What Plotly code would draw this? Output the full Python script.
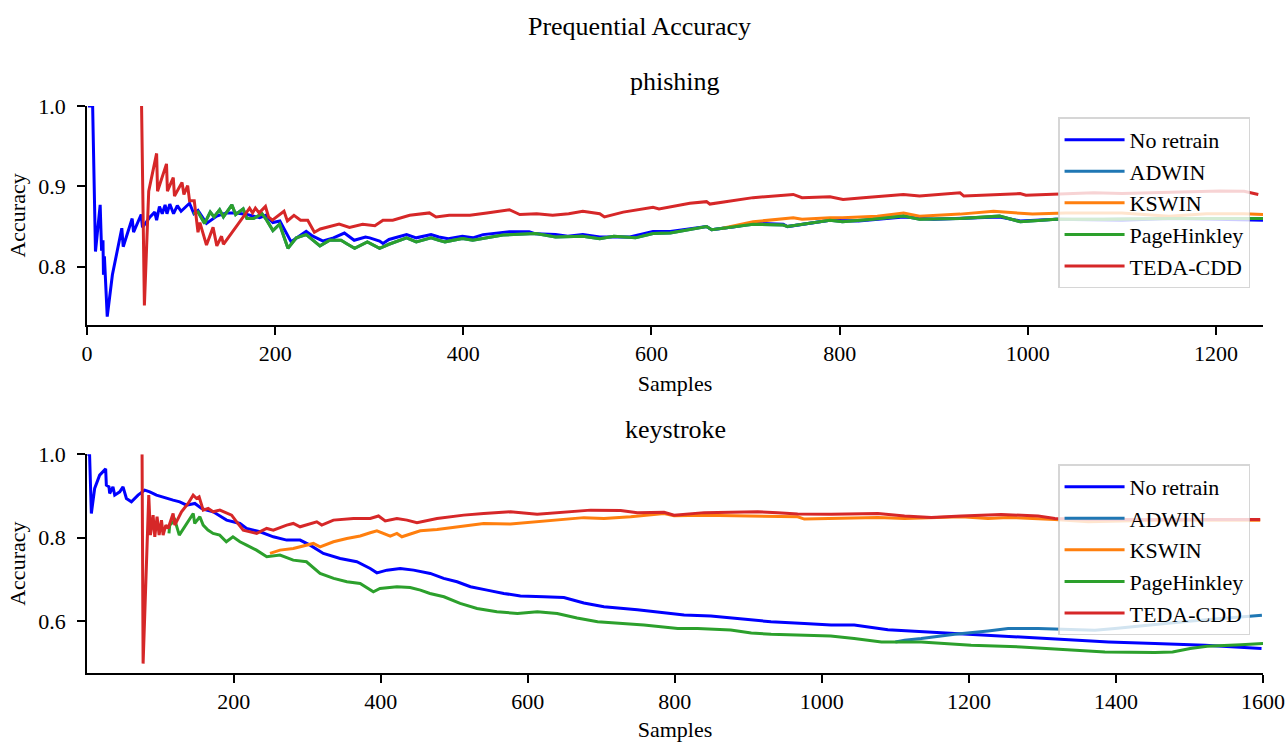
import plotly.graph_objects as go

# ---------------- data ----------------
SERIES = ["No retrain", "ADWIN", "KSWIN", "PageHinkley", "TEDA-CDD"]
COLORS = ["#0000ff", "#1f77b4", "#ff7f0e", "#2ca02c", "#d62728"]

# phishing
phishing_noretrain_x = [1, 6, 9, 14, 15.5, 17, 17.5, 18.5, 21.5, 27, 37, 38.5, 48, 49.5, 57.6, 59, 67, 72, 74, 77, 80,
                        83, 85, 88, 92, 96, 100, 106, 109, 113.6, 118, 127, 138, 148, 158.7, 170, 183.5, 190, 197.6,
                        205, 212, 217, 233, 240, 251, 262, 273.6, 284, 296, 300.5, 311, 314.6, 321, 339.7, 350, 365.7,
                        374, 384, 399, 410, 421, 449, 470, 477, 498, 511, 527, 545, 577, 601.6, 620, 658.5, 664, 690,
                        708, 740, 744.6, 789.7, 820, 868, 900, 930, 970, 992, 1030, 1100, 1150, 1200, 1250]
phishing_noretrain_y = [1.0, 1.0, 0.819, 0.877, 0.82, 0.833, 0.79, 0.813, 0.738, 0.79, 0.848, 0.825, 0.86, 0.843,
                        0.865, 0.849, 0.862, 0.868, 0.858, 0.875, 0.866, 0.877, 0.866, 0.878, 0.866, 0.876, 0.869,
                        0.876, 0.879, 0.866, 0.870, 0.854, 0.863, 0.867, 0.867, 0.865, 0.861, 0.864, 0.855, 0.857,
                        0.841, 0.831, 0.844, 0.838, 0.832, 0.836, 0.842, 0.833, 0.837, 0.836, 0.832, 0.829, 0.834,
                        0.840, 0.836, 0.840, 0.837, 0.835, 0.838, 0.836, 0.840, 0.8435, 0.8435, 0.841, 0.840, 0.838,
                        0.840, 0.837, 0.837, 0.844, 0.844, 0.850, 0.846, 0.850, 0.854, 0.853, 0.850, 0.858, 0.857,
                        0.862, 0.859, 0.860, 0.862, 0.857, 0.859, 0.858, 0.860, 0.859, 0.858]

phishing_pagehinkley_x = [113, 118, 125, 131, 135, 141, 145, 154, 158, 166, 170, 177, 186, 191, 197.6, 204.7, 213.6,
                          222.5, 233, 240, 247.6, 258, 270, 277, 284.5, 298, 311, 321, 339.7, 350, 365.7, 374, 380.5,
                          399, 410, 442, 477, 498, 527, 545, 560, 583, 601.6, 620, 658.5, 664, 708, 740, 744.6, 789.7,
                          803, 835, 868, 885, 928, 970, 992, 1030, 1080, 1150, 1200, 1250]
phishing_pagehinkley_y = [0.866, 0.868, 0.854, 0.868, 0.862, 0.871, 0.862, 0.877, 0.865, 0.872, 0.860, 0.860, 0.866,
                          0.858, 0.845, 0.853, 0.823, 0.836, 0.840, 0.833, 0.826, 0.833, 0.833, 0.828, 0.823, 0.831,
                          0.823, 0.828, 0.836, 0.831, 0.836, 0.833, 0.831, 0.835, 0.833, 0.8394, 0.8414, 0.837, 0.838,
                          0.835, 0.838, 0.836, 0.8414, 0.842, 0.850, 0.846, 0.853, 0.852, 0.850, 0.858, 0.856, 0.859,
                          0.863, 0.859, 0.860, 0.863, 0.856, 0.859, 0.859, 0.860, 0.860, 0.860]

# ADWIN follows the PageHinkley curve on phishing (it stays hidden under it)
phishing_adwin_x = phishing_pagehinkley_x
phishing_adwin_y = phishing_pagehinkley_y

phishing_kswin_x = [675.7, 708, 750.7, 760, 789.7, 803, 840, 868, 885, 928, 963.6, 1005, 1040, 1100, 1150, 1190,
                    1230, 1250]
phishing_kswin_y = [0.848, 0.856, 0.861, 0.859, 0.861, 0.861, 0.863, 0.867, 0.863, 0.8655, 0.869, 0.8655, 0.867,
                    0.867, 0.863, 0.866, 0.866, 0.865]

phishing_teda_x = [58, 61, 65.6, 74, 75, 84.5, 85.5, 91.7, 93, 101, 103, 107, 109, 114, 118, 120, 127, 134, 138, 143,
                   145, 172.8, 176, 179, 183, 189.7, 193, 197, 209.4, 213, 220, 227, 234.6, 241.7, 248, 268, 279, 293,
                   306, 314.6, 325, 343, 364, 371, 385, 407, 425, 449, 460, 478, 495, 512, 527, 545, 550, 570, 601.6,
                   608, 640.8, 658.5, 662, 683, 708, 750.7, 760, 789.7, 803.6, 825, 867.7, 885, 928, 932, 960, 991.8,
                   998, 1030, 1070, 1100, 1133.6, 1170, 1204.5, 1230, 1245]
phishing_teda_y = [1.0, 0.752, 0.894, 0.941, 0.894, 0.928, 0.894, 0.911, 0.888, 0.905, 0.89, 0.901, 0.882, 0.882,
                   0.843, 0.855, 0.827, 0.849, 0.826, 0.838, 0.828, 0.873, 0.867, 0.873, 0.867, 0.875, 0.862, 0.858,
                   0.869, 0.857, 0.864, 0.858, 0.858, 0.843, 0.847, 0.853, 0.849, 0.853, 0.851, 0.858, 0.858, 0.864,
                   0.867, 0.862, 0.864, 0.864, 0.867, 0.871, 0.865, 0.866, 0.864, 0.866, 0.869, 0.866, 0.862, 0.868,
                   0.874, 0.872, 0.879, 0.881, 0.878, 0.882, 0.886, 0.890, 0.886, 0.887, 0.8837, 0.886, 0.890, 0.888,
                   0.892, 0.888, 0.889, 0.891, 0.889, 0.890, 0.892, 0.891, 0.892, 0.893, 0.8944, 0.894, 0.890]

# keystroke
keystroke_noretrain_x = [1, 4, 6.4, 10.9, 17.7, 25.9, 26.8, 30.4, 31.3, 35.8, 38.2, 45, 49.5, 54.1, 60.9, 69.9, 79,
                         85.9, 95, 101.8, 108.6, 117.6, 126.7, 135.9, 147.2, 156.3, 163.1, 172.1, 190.4, 208.5, 217.6,
                         235.8, 253.9, 272.1, 290.3, 303.9, 322, 344.8, 367.5, 385.7, 394.8, 408.4, 426.5, 444.7,
                         467.4, 485.6, 503.8, 522, 544.7, 567.4, 590, 608.2, 621.8, 649.1, 676.3, 703.6, 749.1, 794.5,
                         812.6, 849, 885.4, 930.8, 976.2, 1012.5, 1044, 1089.8, 1180.6, 1271.3, 1390, 1453, 1521, 1598]
keystroke_noretrain_y = [1.0, 1.0, 0.858, 0.918, 0.950, 0.965, 0.926, 0.922, 0.906, 0.922, 0.902, 0.910, 0.922, 0.894,
                         0.886, 0.902, 0.914, 0.910, 0.902, 0.898, 0.894, 0.890, 0.886, 0.878, 0.882, 0.870, 0.866,
                         0.862, 0.842, 0.834, 0.822, 0.814, 0.802, 0.794, 0.794, 0.782, 0.762, 0.750, 0.742, 0.726,
                         0.7154, 0.7219, 0.726, 0.722, 0.714, 0.702, 0.694, 0.682, 0.674, 0.666, 0.660, 0.658, 0.658,
                         0.656, 0.643, 0.634, 0.627, 0.618, 0.614, 0.612, 0.606, 0.598, 0.594, 0.590, 0.590, 0.579,
                         0.570, 0.5616, 0.5496, 0.5456, 0.5416, 0.5337]

keystroke_adwin_x = [1100, 1112.5, 1135.2, 1180.6, 1226, 1253.3, 1294.2, 1371.4, 1398.6, 1453.2, 1498.6, 1544, 1598.5]
keystroke_adwin_y = [0.5496, 0.5536, 0.5576, 0.568, 0.576, 0.5817, 0.5817, 0.5776, 0.5817, 0.592, 0.5993, 0.6057,
                     0.6137]

keystroke_kswin_x = [249.4, 263, 281.1, 290.3, 308.4, 317.5, 335.7, 353.9, 372, 385.7, 394.8, 413, 422, 428.8, 453.8,
                     476.6, 512.8, 540, 576.5, 612.8, 676.3, 703.6, 740, 785.4, 799, 839.9, 912.6, 967.1, 976.2,
                     1012.5, 1076.2, 1112.5, 1189.7, 1226, 1253.3, 1316.9, 1362.4, 1453.2, 1596.2]
keystroke_kswin_y = [0.762, 0.770, 0.774, 0.778, 0.786, 0.778, 0.790, 0.798, 0.804, 0.8116, 0.8164, 0.8036, 0.810,
                     0.802, 0.8164, 0.8197, 0.8277, 0.834, 0.8325, 0.838, 0.848, 0.846, 0.850, 0.858, 0.8524, 0.854,
                     0.8524, 0.850, 0.8445, 0.846, 0.8485, 0.846, 0.850, 0.846, 0.8485, 0.8437, 0.838, 0.842, 0.842]

keystroke_pagehinkley_x = [112, 113, 120, 126, 145, 147, 154, 158.5, 165, 172, 181, 190, 199, 208.5, 217.6, 231, 245,
                           263, 281, 299, 317.5, 336, 354, 372, 390, 399, 422, 440, 454, 467, 486, 508, 531, 558, 586,
                           613, 640, 667, 695, 731, 758, 804, 831, 876, 904, 931, 976, 1012, 1044, 1081, 1135, 1203,
                           1271, 1385, 1453, 1477, 1501, 1524, 1570, 1600]
keystroke_pagehinkley_y = [0.810, 0.830, 0.842, 0.806, 0.858, 0.834, 0.850, 0.830, 0.818, 0.810, 0.806, 0.790, 0.802,
                           0.790, 0.782, 0.770, 0.754, 0.758, 0.746, 0.742, 0.714, 0.702, 0.694, 0.690, 0.670, 0.678,
                           0.682, 0.680, 0.674, 0.666, 0.658, 0.642, 0.630, 0.622, 0.618, 0.622, 0.618, 0.607, 0.598,
                           0.594, 0.590, 0.582, 0.582, 0.578, 0.571, 0.568, 0.566, 0.564, 0.558, 0.5496, 0.5496, 0.5416,
                           0.5375, 0.5256, 0.5245, 0.5256, 0.5337, 0.539, 0.543, 0.5456]

keystroke_teda_x = [75.4, 76.8, 84.5, 86.8, 90.4, 92.7, 95.8, 98.6, 101.8, 104, 107.7, 110.8, 117.6, 119.9, 129, 138,
                    144.9, 149.5, 153, 158.5, 165.3, 172.1, 181.2, 190.4, 197.2, 204, 213, 231.3, 244.9, 253.9, 272.1,
                    281.1, 290.3, 313, 319.8, 335.7, 362.9, 385.7, 397, 406.1, 422, 435.7, 449.3, 476.6, 512.8, 540,
                    576.5, 612.8, 658.2, 685.5, 726.4, 749.1, 785.4, 799, 839.9, 862.6, 912.6, 939.9, 967.1, 1012.5,
                    1035.3, 1076.2, 1112.5, 1148.8, 1189.7, 1244.2, 1294.2, 1316.9, 1362.4, 1453.2, 1596.2]
keystroke_teda_y = [1.0, 0.4976, 0.902, 0.806, 0.854, 0.802, 0.850, 0.806, 0.842, 0.806, 0.830, 0.822, 0.858, 0.830,
                    0.862, 0.882, 0.902, 0.894, 0.898, 0.866, 0.870, 0.862, 0.866, 0.858, 0.854, 0.838, 0.818, 0.810,
                    0.822, 0.818, 0.830, 0.834, 0.826, 0.838, 0.830, 0.842, 0.846, 0.846, 0.852, 0.840, 0.846, 0.842,
                    0.836, 0.846, 0.854, 0.858, 0.862, 0.856, 0.862, 0.866, 0.865, 0.860, 0.861, 0.854, 0.860, 0.861,
                    0.862, 0.860, 0.857, 0.856, 0.8565, 0.858, 0.8517, 0.8485, 0.8517, 0.8557, 0.8517, 0.846, 0.8437,
                    0.8437, 0.8437]

PHISHING = [(phishing_noretrain_x, phishing_noretrain_y), (phishing_adwin_x, phishing_adwin_y),
            (phishing_kswin_x, phishing_kswin_y), (phishing_pagehinkley_x, phishing_pagehinkley_y),
            (phishing_teda_x, phishing_teda_y)]
KEYSTROKE = [(keystroke_noretrain_x, keystroke_noretrain_y), (keystroke_adwin_x, keystroke_adwin_y),
             (keystroke_kswin_x, keystroke_kswin_y), (keystroke_pagehinkley_x, keystroke_pagehinkley_y),
             (keystroke_teda_x, keystroke_teda_y)]

PANEL_TITLES = ["phishing", "keystroke"]
X_TICKS_TOP = [0, 200, 400, 600, 800, 1000, 1200]
X_TICKS_BOTTOM = [200, 400, 600, 800, 1000, 1200, 1400, 1600]
Y_TICKS_TOP = [0.8, 0.9, 1.0]
Y_TICKS_BOTTOM = [0.6, 0.8, 1.0]

# ---------------- figure ----------------
FONT = "Liberation Serif"
fig = go.Figure()

for data, xa, ya, leg in [(PHISHING, "x", "y", "legend"), (KEYSTROKE, "x2", "y2", "legend2")]:
    for name, color, (xs, ys) in zip(SERIES, COLORS, data):
        fig.add_trace(go.Scatter(x=xs, y=ys, mode="lines", name=name, xaxis=xa, yaxis=ya, legend=leg,
                                 line=dict(color=color, width=3), showlegend=True))

axis_common = dict(showline=True, linecolor="black", linewidth=1.8, ticks="outside", ticklen=8, tickwidth=1.8,
                   tickcolor="black", showgrid=False, zeroline=False, mirror=False, automargin=False,
                   tickfont=dict(family=FONT, size=22, color="black"))
title_font = dict(family=FONT, size=22, color="black")

TOP_DOMAIN = [0.6138, 1.0]
BOTTOM_DOMAIN = [0.0, 0.3857]

fig.update_layout(
    template="none",
    width=1288, height=742,
    margin=dict(l=87, r=25, t=106, b=69),
    paper_bgcolor="white", plot_bgcolor="white",
    font=dict(family=FONT, size=22, color="black"),
    title=dict(text="Prequential Accuracy", x=639.5 / 1288, xanchor="center", xref="container",
               y=1 - 26 / 742, yanchor="middle", yref="container",
               font=dict(family=FONT, size=26, color="black")),
    xaxis=dict(domain=[0, 1], anchor="y", range=[0, 1250], tickvals=X_TICKS_TOP,
               title=dict(text="Samples", font=title_font, standoff=10), **axis_common),
    yaxis=dict(domain=TOP_DOMAIN, anchor="x", range=[0.7276, 1.0], tickvals=Y_TICKS_TOP, tickformat=".1f",
               ticklabelstandoff=7, title=dict(text="Accuracy", font=title_font, standoff=6), **axis_common),
    xaxis2=dict(domain=[0, 1], anchor="y2", range=[0.5, 1600], tickvals=X_TICKS_BOTTOM,
                title=dict(text="Samples", font=title_font, standoff=10), **axis_common),
    yaxis2=dict(domain=BOTTOM_DOMAIN, anchor="x2", range=[0.475, 1.0], tickvals=Y_TICKS_BOTTOM, tickformat=".1f",
                ticklabelstandoff=7, title=dict(text="Accuracy", font=title_font, standoff=6), **axis_common),
    legend=dict(x=0.989, y=0.980, xanchor="right", yanchor="top", bgcolor="rgba(255,255,255,0.8)",
                bordercolor="rgba(204,204,204,0.8)", borderwidth=1.5, itemwidth=60,
                font=dict(family=FONT, size=22, color="black")),
    legend2=dict(x=0.989, y=0.368, xanchor="right", yanchor="top", bgcolor="rgba(255,255,255,0.8)",
                 bordercolor="rgba(204,204,204,0.8)", borderwidth=1.5, itemwidth=60,
                 font=dict(family=FONT, size=22, color="black")),
)

for title, dom in zip(PANEL_TITLES, [TOP_DOMAIN, BOTTOM_DOMAIN]):
    fig.add_annotation(text=title, xref="paper", yref="paper", x=0.5, y=dom[1], xanchor="center",
                       yanchor="bottom", yshift=8, showarrow=False,
                       font=dict(family=FONT, size=26, color="black"))

fig.write_html("out.html")
